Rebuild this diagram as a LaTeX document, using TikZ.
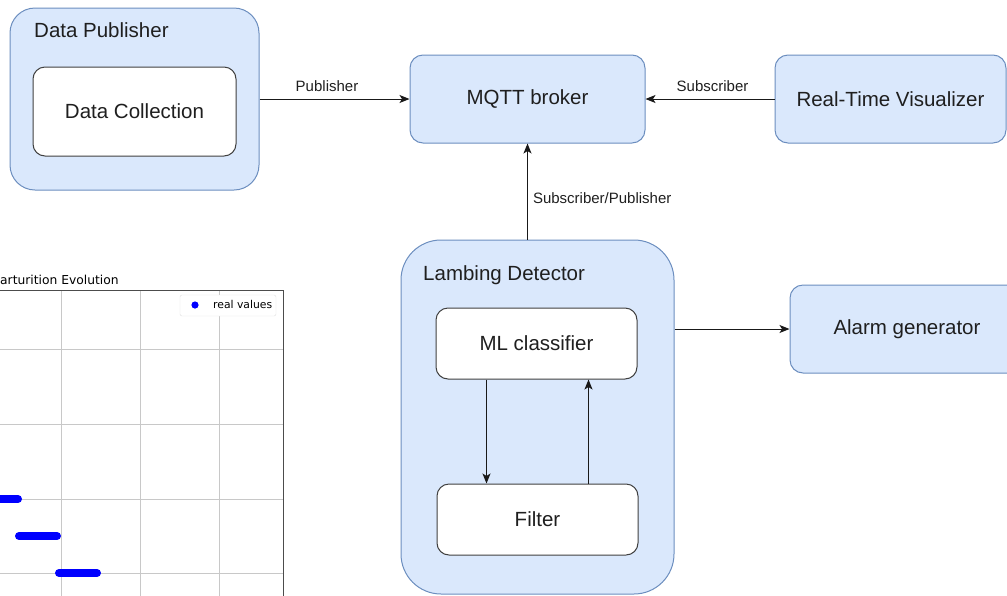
\documentclass[tikz,border=0pt]{standalone}
\usepackage{fontspec}
\setmainfont{Liberation Sans}
\newfontfamily\plotfont{DejaVu Sans}
\usepackage{tikz}
\usetikzlibrary{positioning}
\usetikzlibrary{arrows,arrows.meta,shapes}
\usetikzlibrary{calc}
\definecolor{boxfill}{HTML}{DAE8FC}
\definecolor{boxline}{HTML}{6C8EBF}
\definecolor{inkgray}{HTML}{1F1F1F}
\definecolor{gridgray}{HTML}{C8C8C8}
\tikzstyle{group}=[draw=boxline,fill=boxfill,line width=1pt,rounded corners=25pt]
\tikzstyle{block}=[draw=boxline,fill=boxfill,line width=1pt,rounded corners=13pt,text=inkgray,font=\fontsize{20.5}{24}\selectfont]
\tikzstyle{module}=[draw=black!75,fill=white,line width=1pt,rounded corners=12pt,text=inkgray,font=\fontsize{20.5}{24}\selectfont]
\tikzstyle{grouptitle}=[anchor=west,inner sep=0pt,text=inkgray,font=\fontsize{20.5}{24}\selectfont]
\tikzstyle{edge}=[draw,line width=1pt,-{Stealth[length=10pt,width=8pt,inset=2.5pt]},black!90]
\tikzstyle{weight}=[inner sep=0pt,text=inkgray,font=\fontsize{15}{18}\selectfont]

\begin{document}
\begin{tikzpicture}[x=1pt,y=-1pt]
    \useasboundingbox (0,0) rectangle (1007,595);
    \clip (0,0) rectangle (1007,595);

    % First the plot in the lower left corner
    \node[anchor=west,inner sep=0pt,font=\plotfont\fontsize{12.3}{14}\selectfont] (plottitle) at (0,280) {arturition Evolution};
    \foreach \gx in {61,140,219}
        \draw[gridgray,line width=0.8pt] (\gx,290) -- (\gx,600);
    \foreach \gy in {349,424,499,573}
        \draw[gridgray,line width=0.8pt] (-5,\gy) -- (283,\gy);
    \draw[black!70,line width=0.8pt] (-5,290) rectangle (283,600);
    \foreach \xa/\xb/\yb in {-10/18/499, 19/57/536, 59/97/573}
        \draw[blue,line width=8pt,line cap=round] (\xa,\yb) -- (\xb,\yb);
    \draw[black!12,fill=white,rounded corners=2pt] (180,295) rectangle (276,316);
    \fill[blue] (195,305) circle (3.6pt);
    \node[anchor=west,inner sep=0pt,font=\plotfont\fontsize{10.8}{13}\selectfont] (legend) at (213,304) {real values};

    % Then the blocks
    \node[group,minimum width=249pt,minimum height=182pt] (DP) at (134.5,99) {};
    \node[grouptitle] (DPtitle) at (34,30) {Data Publisher};
    \node[module,minimum width=203pt,minimum height=89pt] (DC) at (134.5,111.5) {Data Collection};

    \node[block,minimum width=235pt,minimum height=88pt] (MQTT) at (527.5,99) {MQTT broker};
    \node[block,minimum width=231pt,minimum height=88pt] (RTV) at (890.5,99) {Real-Time Visualizer};

    \node[group,rounded corners=40pt,minimum width=273pt,minimum height=354pt] (LD) at (537.5,417) {};
    \node[grouptitle] (LDtitle) at (423,275) {Lambing Detector};
    \node[module,minimum width=201pt,minimum height=71pt] (ML) at (536.5,343.5) {ML classifier};
    \node[module,minimum width=201pt,minimum height=71pt] (FI) at (537.5,519.5) {Filter};

    \node[block,minimum width=234pt,minimum height=88pt] (AG) at (907,329) {Alarm generator};

    % Now the arrows
    \path[edge] (DP.east) -- node[weight,above=7pt,pos=0.45] {Publisher} (MQTT.west);
    \path[edge] (RTV.west) -- node[weight,above=7pt,pos=0.48] {Subscriber} (MQTT.east);
    \path[edge] (MQTT.south |- LD.north) -- node[weight,right=5pt,pos=0.43] {Subscriber/Publisher} (MQTT.south);
    \path[edge] ([xshift=-50pt]ML.south) -- ([xshift=-50pt]ML.south |- FI.north);
    \path[edge] ([xshift=51pt]FI.north) -- ([xshift=51pt]FI.north |- ML.south);
    \path[edge] (AG.west -| LD.east) -- (AG.west);

\end{tikzpicture}
\end{document}
